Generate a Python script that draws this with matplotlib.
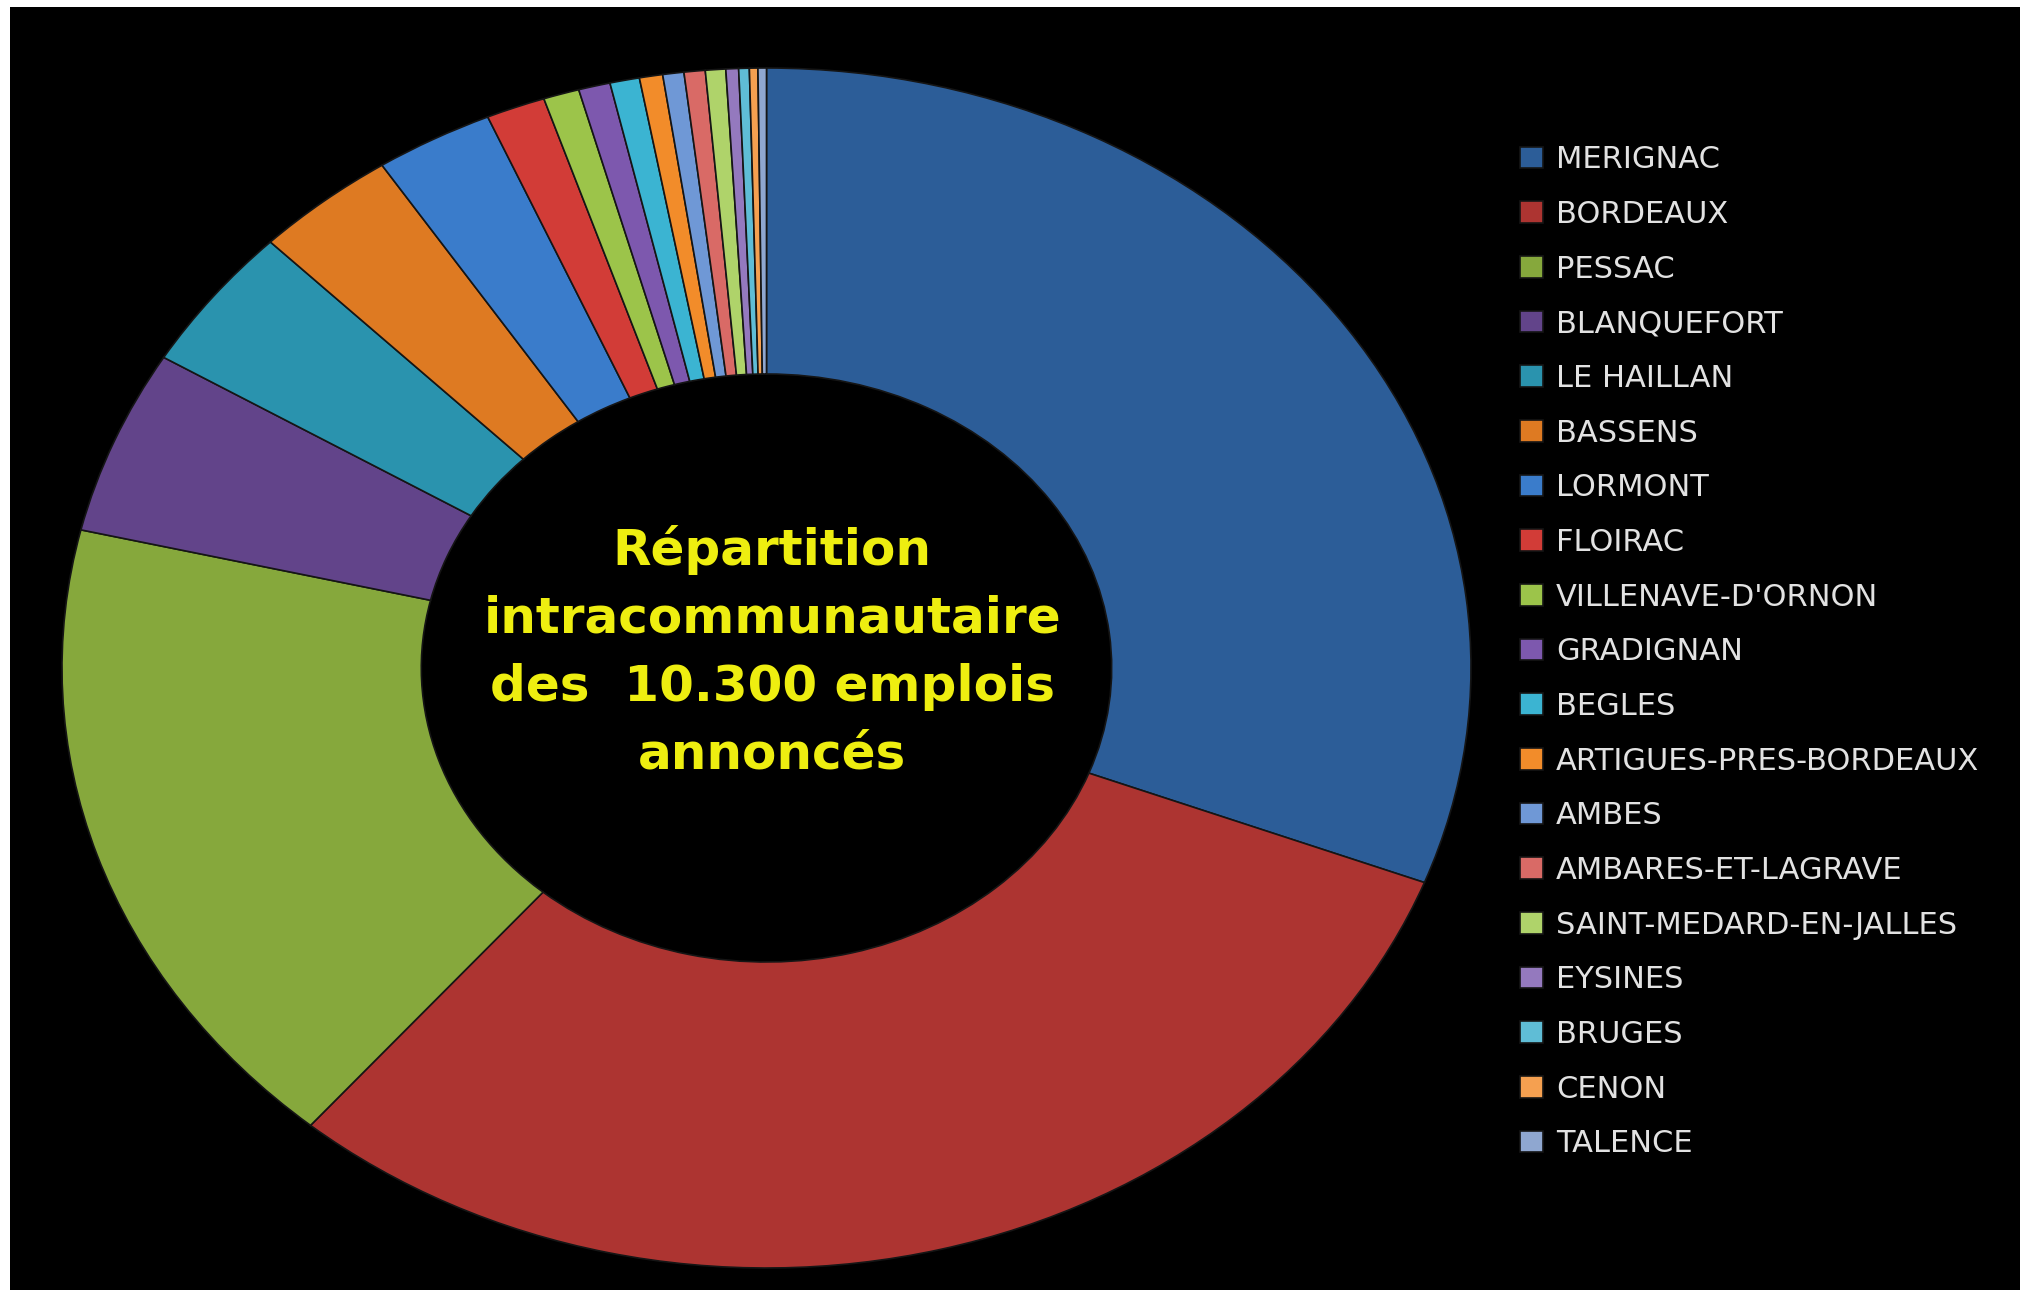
#%%
import matplotlib.pyplot as plt
from matplotlib.patches import Rectangle

# emplois annonces par commune
communes = ["MERIGNAC", "BORDEAUX", "PESSAC", "BLANQUEFORT", "LE HAILLAN",
            "BASSENS", "LORMONT", "FLOIRAC", "VILLENAVE-D'ORNON", "GRADIGNAN",
            "BEGLES", "ARTIGUES-PRES-BORDEAUX", "AMBES", "AMBARES-ET-LAGRAVE",
            "SAINT-MEDARD-EN-JALLES", "EYSINES", "BRUGES", "CENON", "TALENCE"]
emplois = [3180, 3135, 1805, 512, 403,
           335, 280, 140, 85, 75,
           70, 55, 50, 50,
           48, 30, 25, 20, 20]
couleurs = ["#2C5D98", "#AD3431", "#86A83C", "#62448A", "#2A93AE",
            "#DE7A22", "#3A7CCB", "#D23C37", "#9CC44A", "#7D58AE",
            "#3BB4D2", "#F28C2A", "#6F98D6", "#D96A66", "#AFD36A",
            "#9479BE", "#5FBDD6", "#F5A050", "#8FA7D0"]
titre = "Répartition\nintracommunautaire\ndes  10.300 emplois\nannoncés"

W, H = 2028, 1290
fig = plt.figure(figsize=(W/100, H/100), dpi=100, facecolor="white")
fig.patches.append(Rectangle((10/W, 0), 2010/W, (H-7)/H, transform=fig.transFigure,
                             facecolor="black", edgecolor="none", zorder=-5))

#%% donut (ellipse: image etiree)
ax = fig.add_axes([62/W, 22/H, 1409/W, 1200/H])
ax.set_facecolor("none")
wedges, _ = ax.pie(emplois, colors=couleurs, startangle=90, counterclock=False,
                   radius=1, wedgeprops=dict(width=0.51, edgecolor="#151515", linewidth=1.2))
ax.set_aspect("auto")
ax.set_xlim(-1, 1)
ax.set_ylim(-1, 1)
ax.axis("off")
ax.text(0.008, 0.027, titre, ha="center", va="center", color="#EEEE10",
        fontsize=36, fontweight="bold", family="DejaVu Sans", linespacing=1.52)

#%% legende
leg = fig.legend(wedges, communes, loc="upper left", bbox_to_anchor=(1508/W, (H-133)/H),
                 frameon=False, fontsize=22, labelcolor="#E2E2E2",
                 handlelength=0.75, handleheight=0.72, handletextpad=0.42,
                 labelspacing=0.84, borderaxespad=0)
for t in leg.get_texts():
    t.set_family("DejaVu Sans")

fig.savefig("out.png", dpi=100, facecolor=fig.get_facecolor())
